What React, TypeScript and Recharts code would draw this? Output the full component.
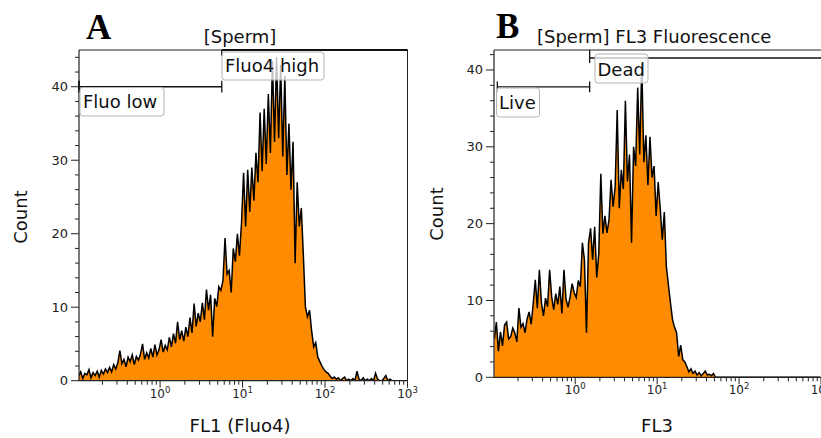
import React from 'react';
import { AreaChart, Area, XAxis, YAxis, ReferenceLine } from 'recharts';

// Histogram bins: channels evenly spaced in log10 units
const binStart = -1;
const binStep = 0.025;

// Panel A: FL1 (Fluo4) counts per channel
const fl1Counts = [
  0.6, 1.2, 0.3, 1.0, 0.8, 1.5, 0.4, 1.1, 0.7, 1.3,
  0.5, 1.4, 0.9, 1.6, 1.1, 1.8, 1.2, 2.2, 1.6, 2.4,
  4.1, 2.3, 2.9, 1.9, 3.2, 2.6, 3.5, 2.2, 3.3, 2.8,
  3.6, 5.0, 2.9, 3.8, 3.1, 4.4, 3.2, 4.9, 3.5, 4.2,
  5.6, 3.9, 4.8, 4.2, 5.9, 4.6, 6.4, 5.1, 8.0, 5.6,
  6.8, 5.4, 7.3, 6.0, 8.6, 6.5, 10.5, 7.4, 9.2, 8.0,
  10.6, 8.3, 12.4, 9.6, 11.7, 6.0, 11.2, 10.1, 12.8, 12.3,
  13.6, 19.4, 14.5, 15.0, 12.0, 18.0, 16.2, 20.0, 17.0, 21.5,
  28.3, 21.0, 28.7, 23.0, 29.0, 24.5, 31.0, 27.0, 36.5, 28.5,
  37.0, 29.5, 39.0, 31.0, 43.5, 32.5, 44.0, 33.0, 43.0, 30.5,
  41.5, 28.0, 35.0, 26.0, 32.5, 16.0, 27.0, 21.0, 23.5, 17.0,
  10.0, 8.7, 9.6, 6.8, 4.6, 5.2, 3.2, 2.6, 2.0, 1.5,
  1.2, 1.0, 0.6, 0.3, 0.5, 0.2, 0.4, 0.0, 0.3, 0.5,
  0.0, 0.2, 0.0, 0.3, 0.0, 1.3, 0.2, 0.0, 0.4, 0.0,
  0.2, 0.0, 0.3, 0.0, 1.0, 0.2, 0.0, 0.0, 0.3, 0.7,
  0.0, 0.2, 0.0, 0.0, 0.0, 0.0, 0.0, 0.0, 0.0, 0.0,
];

// Panel B: FL3 counts per channel
const fl3Counts = [
  5.0, 7.2, 3.4, 5.9, 4.1, 6.8, 7.2, 5.0, 5.3, 6.4,
  5.8, 4.6, 9.0, 6.5, 7.0, 5.8, 7.6, 8.5, 6.9, 9.6,
  12.7, 9.0, 14.0, 9.7, 8.0, 10.3, 9.2, 14.0, 10.5, 8.8,
  10.9, 9.5, 11.8, 8.3, 14.0, 10.2, 9.1, 10.5, 12.2, 11.0,
  10.4, 12.6, 11.8, 17.5, 15.3, 5.8, 17.5, 19.4, 15.3, 19.6,
  13.0, 16.1, 26.5, 18.7, 21.0, 18.8, 20.5, 25.7, 22.2, 24.8,
  34.8, 22.0, 27.0, 24.5, 36.0, 25.5, 29.0, 17.5, 30.0, 27.5,
  37.7, 29.0, 40.8, 28.0, 31.5, 25.0, 31.3, 26.0, 27.5, 21.0,
  25.4, 22.0, 17.9, 21.5, 14.4, 12.0, 9.7, 7.5, 6.5, 5.8,
  2.7, 4.2, 2.3, 2.0, 1.4, 0.7, 1.1, 0.5, 0.8, 0.3,
  0.6, 0.2, 0.5, 0.8, 0.3, 0.4, 0.2, 0.5, 0.0, 0.0,
  0.0, 0.0, 0.0, 0.0, 0.0, 0.0, 0.0, 0.0, 0.0, 0.0,
  0.0, 0.0, 0.0, 0.0, 0.0, 0.0, 0.0, 0.0, 0.0, 0.0,
  0.0, 0.0, 0.0, 0.0, 0.0, 0.0, 0.0, 0.0, 0.0, 0.0,
  0.0, 0.0, 0.0, 0.0, 0.0, 0.0, 0.0, 0.0, 0.0, 0.0,
  0.0, 0.0, 0.0, 0.0, 0.0, 0.0, 0.0, 0.0, 0.0, 0.0,
];

const xTicks = [
  0.2, 0.3, 0.4, 0.5, 0.6, 0.7, 0.8, 0.9,
  1, 2, 3, 4, 5, 6, 7, 8, 9,
  10, 20, 30, 40, 50, 60, 70, 80, 90,
  100, 200, 300, 400, 500, 600, 700, 800, 900,
  1000,
];
const yTicksA = [0, 2, 4, 6, 8, 10, 12, 14, 16, 18, 20, 22, 24, 26, 28, 30, 32, 34, 36, 38, 40, 42, 44];
const yTicksB = [0, 2, 4, 6, 8, 10, 12, 14, 16, 18, 20, 22, 24, 26, 28, 30, 32, 34, 36, 38, 40, 42];

const toRows = (counts: number[]) =>
  counts.map((c, i) => ({ x: Math.pow(10, binStart + binStep * (i + 0.5)), count: c }));

const dataA = toRows(fl1Counts);
const dataB = toRows(fl3Counts);

const FONT = '"DejaVu Sans", Verdana, sans-serif';
const AXIS = '#222';

const XTick = (props: any) => {
  const { x, y, payload } = props;
  const v = payload.value as number;
  const lg = Math.log10(v);
  const exp = Math.round(lg);
  const major = Math.abs(lg - exp) < 1e-6;
  return (
    <g>
      <line x1={x} x2={x} y1={y} y2={y + (major ? 7 : 4)} stroke={AXIS} strokeWidth={1} />
      {major && (
        <text x={x} y={y + 17} textAnchor="middle" fontFamily={FONT} fontSize={12} fill={AXIS}>
          <tspan>10</tspan>
          <tspan dy={-5} fontSize={8.5}>{exp}</tspan>
        </text>
      )}
    </g>
  );
};

const YTick = (props: any) => {
  const { x, y, payload } = props;
  const v = payload.value as number;
  const major = v % 10 === 0;
  return (
    <g>
      <line x1={x} x2={x - (major ? 8 : 4)} y1={y} y2={y} stroke={AXIS} strokeWidth={1} />
      {major && (
        <text x={x - 11} y={y} dy={4.5} textAnchor="end" fontFamily={FONT} fontSize={13} fill={AXIS}>
          {v}
        </text>
      )}
    </g>
  );
};

const GateLabel = ({ x, y, w, h, tx, ty, text }: any) => (
  <g>
    <rect x={x} y={y} width={w} height={h} rx={3} ry={3} fill="rgba(255,255,255,0.75)" stroke="#b5b5b5" strokeWidth={1} />
    <text x={tx} y={ty} fontFamily={FONT} fontSize={18} fill="#111">{text}</text>
  </g>
);

export default function App() {
  return (
    <div style={{ position: 'fixed', left: 0, top: 0, width: 821, height: 438, overflow: 'hidden', background: '#fff' }}>
      <div style={{ position: 'absolute', left: 0, top: 0 }}>
        <AreaChart width={420} height={438} data={dataA} margin={{ top: 50, left: 78, right: 12.5, bottom: 56.3 }}>
          <XAxis
            dataKey="x"
            type="number"
            scale="log"
            domain={[0.104, 1000]}
            allowDataOverflow
            ticks={xTicks}
            interval={0}
            tick={<XTick />}
            tickLine={false}
            tickSize={0}
            tickMargin={0}
            height={1}
            axisLine={{ stroke: AXIS, strokeWidth: 1.2 }}
          />
          <YAxis
            type="number"
            domain={[0, 45]}
            allowDataOverflow
            ticks={yTicksA}
            interval={0}
            tick={<YTick />}
            tickLine={false}
            tickSize={0}
            tickMargin={0}
            width={1}
            axisLine={{ stroke: AXIS, strokeWidth: 1.2 }}
          />
          <Area
            dataKey="count"
            type="linear"
            stroke="#000"
            strokeWidth={1.5}
            fill="#FF8C00"
            fillOpacity={1}
            dot={false}
            activeDot={false}
            isAnimationActive={false}
          />
          <ReferenceLine y={45} stroke={AXIS} strokeWidth={1} ifOverflow="visible" />
          <ReferenceLine x={1000} stroke={AXIS} strokeWidth={1} ifOverflow="visible" />
          <ReferenceLine segment={[{ x: 0.104, y: 40 }, { x: 5.6, y: 40 }]} stroke="#111" strokeWidth={1.3} ifOverflow="visible" />
          <ReferenceLine segment={[{ x: 0.104, y: 39.2 }, { x: 0.104, y: 40.8 }]} stroke="#111" strokeWidth={2} ifOverflow="visible" />
          <ReferenceLine segment={[{ x: 5.6, y: 39.2 }, { x: 5.6, y: 40.8 }]} stroke="#111" strokeWidth={1.3} ifOverflow="visible" />
          <ReferenceLine segment={[{ x: 5.6, y: 45 }, { x: 1000, y: 45 }]} stroke="#111" strokeWidth={1.8} ifOverflow="visible" />
          <ReferenceLine segment={[{ x: 5.6, y: 45 }, { x: 5.6, y: 44.2 }]} stroke="#111" strokeWidth={1.3} ifOverflow="visible" />
        </AreaChart>
      </div>
      <div style={{ position: 'absolute', left: 420, top: 0 }}>
        <AreaChart width={401} height={438} data={dataB} margin={{ top: 50, left: 73, right: 0, bottom: 59.7 }}>
          <XAxis
            dataKey="x"
            type="number"
            scale="log"
            domain={[0.102, 1000]}
            allowDataOverflow
            ticks={xTicks}
            interval={0}
            tick={<XTick />}
            tickLine={false}
            tickSize={0}
            tickMargin={0}
            height={1}
            axisLine={{ stroke: AXIS, strokeWidth: 1.2 }}
          />
          <YAxis
            type="number"
            domain={[0, 42.6]}
            allowDataOverflow
            ticks={yTicksB}
            interval={0}
            tick={<YTick />}
            tickLine={false}
            tickSize={0}
            tickMargin={0}
            width={1}
            axisLine={{ stroke: AXIS, strokeWidth: 1.2 }}
          />
          <Area
            dataKey="count"
            type="linear"
            stroke="#000"
            strokeWidth={1.5}
            fill="#FF8C00"
            fillOpacity={1}
            dot={false}
            activeDot={false}
            isAnimationActive={false}
          />
          <ReferenceLine y={42.6} stroke={AXIS} strokeWidth={1.2} ifOverflow="visible" />
          <ReferenceLine segment={[{ x: 0.112, y: 37.8 }, { x: 1.5, y: 37.8 }]} stroke="#111" strokeWidth={1.3} ifOverflow="visible" />
          <ReferenceLine segment={[{ x: 0.112, y: 37.1 }, { x: 0.112, y: 38.5 }]} stroke="#111" strokeWidth={1.3} ifOverflow="visible" />
          <ReferenceLine segment={[{ x: 1.5, y: 37.1 }, { x: 1.5, y: 38.5 }]} stroke="#111" strokeWidth={1.3} ifOverflow="visible" />
          <ReferenceLine segment={[{ x: 1.5, y: 41.56 }, { x: 1000, y: 41.56 }]} stroke="#111" strokeWidth={1.3} ifOverflow="visible" />
          <ReferenceLine segment={[{ x: 1.5, y: 42.6 }, { x: 1.5, y: 40.9 }]} stroke="#111" strokeWidth={1.3} ifOverflow="visible" />
        </AreaChart>
      </div>
      <svg width={821} height={438} style={{ position: 'absolute', left: 0, top: 0, pointerEvents: 'none' }}>
        <text x={86} y={39} fontFamily='"Liberation Serif", "Times New Roman", serif' fontWeight="bold" fontSize={35} fill="#000">A</text>
        <text x={240} y={43} textAnchor="middle" fontFamily={FONT} fontSize={18} fill="#111">[Sperm]</text>
        <text x={496} y={38} fontFamily='"Liberation Serif", "Times New Roman", serif' fontWeight="bold" fontSize={35} fill="#000">B</text>
        <text x={537} y={43} fontFamily={FONT} fontSize={18} fill="#111">[Sperm] FL3 Fluorescence</text>

        <GateLabel x={80} y={87.5} w={84} h={28.5} tx={83} ty={108} text="Fluo low" />
        <GateLabel x={222} y={52} w={102} h={28} tx={225} ty={72} text="Fluo4 high" />
        <GateLabel x={496.5} y={88} w={43} h={29} tx={499} ty={109} text="Live" />
        <GateLabel x={595} y={54} w={53} h={29} tx={597.5} ty={76} text="Dead" />

        <text x={240} y={432} textAnchor="middle" fontFamily={FONT} fontSize={18} fill="#111">FL1 (Fluo4)</text>
        <text x={657} y={432} textAnchor="middle" fontFamily={FONT} fontSize={18} fill="#111">FL3</text>
        <text transform="translate(27,217) rotate(-90)" textAnchor="middle" fontFamily={FONT} fontSize={18} fill="#111">Count</text>
        <text transform="translate(443,214) rotate(-90)" textAnchor="middle" fontFamily={FONT} fontSize={18} fill="#111">Count</text>
      </svg>
    </div>
  );
}
